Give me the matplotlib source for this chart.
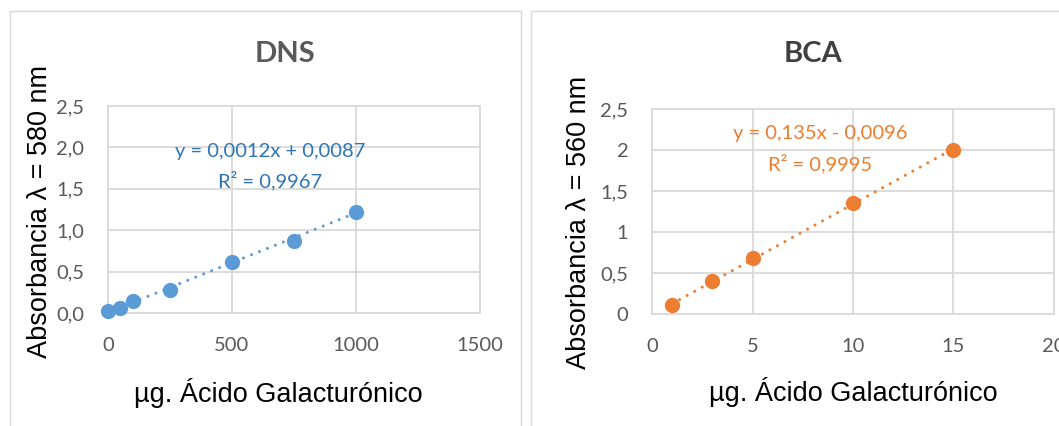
import matplotlib
matplotlib.use("Agg")
import matplotlib.pyplot as plt
from matplotlib.patches import Rectangle
import numpy as np

# Data
dns_x = [0, 50, 100, 250, 500, 750, 1000]
dns_y = [0.025, 0.055, 0.145, 0.28, 0.62, 0.87, 1.225]
dns_slope, dns_icpt = 0.0012, 0.0087
dns_eq = "y = 0,0012x + 0,0087"
dns_r2 = "R² = 0,9967"
dns_xticks = [0, 500, 1000, 1500]
dns_yticks = [0.0, 0.5, 1.0, 1.5, 2.0, 2.5]
dns_yticklabels = ["0,0", "0,5", "1,0", "1,5", "2,0", "2,5"]

bca_x = [1, 3, 5, 10, 15]
bca_y = [0.11, 0.40, 0.68, 1.35, 2.0]
bca_slope, bca_icpt = 0.135, -0.0096
bca_eq = "y = 0,135x - 0,0096"
bca_r2 = "R² = 0,9995"
bca_xticks = [0, 5, 10, 15, 20]
bca_yticks = [0, 0.5, 1, 1.5, 2, 2.5]
bca_yticklabels = ["0", "0,5", "1", "1,5", "2", "2,5"]

W, H = 1059, 426
fig = plt.figure(figsize=(W / 100, H / 100), dpi=100)
fig.patch.set_facecolor("white")

def px_axes(x0, y0, x1, y1):
    return fig.add_axes([x0 / W, 1 - y1 / H, (x1 - x0) / W, (y1 - y0) / H])

def fx(x):
    return x / W

def fy(y):
    return 1 - y / H

GRID = "#D9D9D9"
TICK = "#595959"
tickfont = "Lato"
armfont = ["Liberation Sans", "DejaVu Sans"]

# chart frames
fig.add_artist(Rectangle((fx(9.5), fy(440)), fx(521 - 9.5), fy(10.5) - fy(440),
                         transform=fig.transFigure, fill=False, ec=GRID, lw=1.0))
fig.add_artist(Rectangle((fx(530.5), fy(440)), fx(1100 - 530.5), fy(10.5) - fy(440),
                         transform=fig.transFigure, fill=False, ec=GRID, lw=1.0))

def style_axes(ax, xticks, yticks, yticklabels):
    ax.set_xlim(xticks[0], xticks[-1])
    ax.set_ylim(yticks[0], yticks[-1])
    ax.set_xticks(xticks)
    ax.set_xticklabels([str(t) for t in xticks])
    ax.set_yticks(yticks)
    ax.set_yticklabels(yticklabels)
    ax.grid(True, color=GRID, lw=1.3)
    ax.set_axisbelow(True)
    for s in ax.spines.values():
        s.set_color(GRID)
        s.set_linewidth(1.3)
    ax.tick_params(length=0, labelcolor=TICK, labelsize=14.5)
    ax.tick_params(axis="y", pad=17)
    ax.tick_params(axis="x", pad=17)
    for lab in ax.get_xticklabels() + ax.get_yticklabels():
        lab.set_fontfamily(tickfont)

# DNS
ax1 = px_axes(108, 106, 480, 313)
style_axes(ax1, dns_xticks, dns_yticks, dns_yticklabels)
tx = np.array([dns_x[0], dns_x[-1]], dtype=float)
ax1.plot(tx, dns_slope * tx + dns_icpt, color="#5B9BD5", lw=2.2,
         dashes=(0.01, 2.8), dash_capstyle="round", zorder=2)
ax1.plot(dns_x, dns_y, "o", color="#5B9BD5", ms=11, mec="none", zorder=3, clip_on=False)

# BCA
ax2 = px_axes(652, 109, 1054, 314)
style_axes(ax2, bca_xticks, bca_yticks, bca_yticklabels)
tx = np.array([bca_x[0], bca_x[-1]], dtype=float)
ax2.plot(tx, bca_slope * tx + bca_icpt, color="#ED7D31", lw=2.2,
         dashes=(0.01, 2.8), dash_capstyle="round", zorder=2)
ax2.plot(bca_x, bca_y, "o", color="#ED7D31", ms=11, mec="none", zorder=3, clip_on=False)

# titles
fig.text(fx(285), fy(54), "DNS", ha="center", va="center", fontsize=21,
         fontweight="bold", color=TICK, family=tickfont)
fig.text(fx(813), fy(54), "BCA", ha="center", va="center", fontsize=21,
         fontweight="bold", color="#404040", family=tickfont)

# equations
fig.text(fx(270), fy(152), dns_eq, ha="center", va="center", fontsize=14.5,
         color="#2E75B6", family=tickfont)
fig.text(fx(270), fy(181), dns_r2, ha="center", va="center", fontsize=14.5,
         color="#2E75B6", family=tickfont)
fig.text(fx(820), fy(134), bca_eq, ha="center", va="center", fontsize=14.5,
         color="#ED7D31", family=tickfont)
fig.text(fx(820), fy(164), bca_r2, ha="center", va="center", fontsize=14.5,
         color="#ED7D31", family=tickfont)

# axis labels
fig.text(fx(278), fy(393), "µg. Ácido Galacturónico", ha="center", va="center",
         fontsize=19.5, color="black", family=armfont)
fig.text(fx(853), fy(392), "µg. Ácido Galacturónico", ha="center", va="center",
         fontsize=19.5, color="black", family=armfont)
fig.text(fx(40), fy(212), "Absorbancia λ = 580 nm", ha="center", va="center",
         rotation=90, fontsize=19.5, color="black", family=armfont)
fig.text(fx(579), fy(222), "Absorbancia λ = 560 nm", ha="center", va="center",
         rotation=90, fontsize=19.5, color="black", family=armfont)

fig.savefig("out.png", dpi=100)
